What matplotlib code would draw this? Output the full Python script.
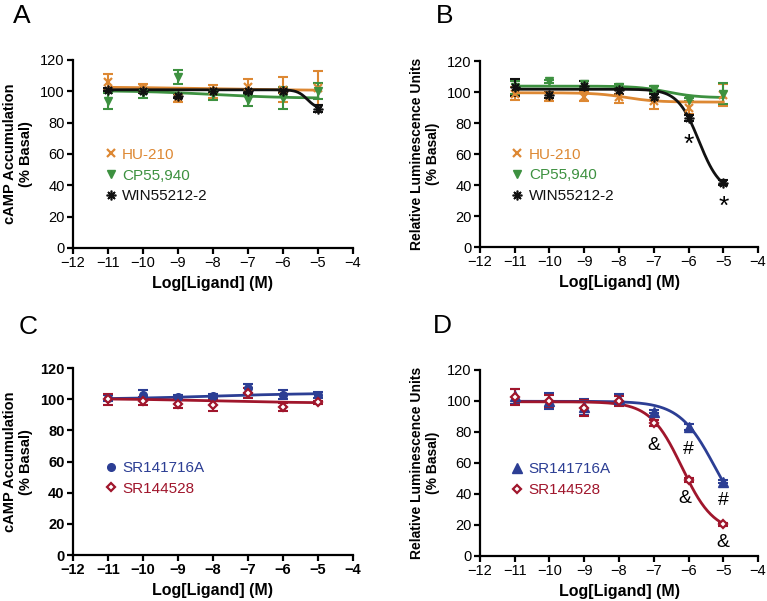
import matplotlib
matplotlib.use('Agg')
import matplotlib.pyplot as plt
from matplotlib.lines import Line2D
import numpy as np

plt.rcParams['font.family'] = ['Liberation Sans', 'DejaVu Sans']

# ---- data ----
log_conc = [-11, -10, -9, -8, -7, -6, -5]

# panel A: cAMP accumulation, agonists
a_hu = [106, 102, 95.5, 100, 103, 101, 102]
a_hu_err = [5, 2.5, 2.5, 4, 5, 8, 11]
a_cp = [94, 99, 109, 98, 94.5, 96, 100]
a_cp_err = [5, 3, 4.5, 3.5, 4, 7, 5]
a_win = [101, 100, 97, 100, 100, 100, 89]
a_win_err = [1, 1, 1, 1, 1, 1, 2]

# panel B: luminescence, agonists
b_hu = [99, 97, 97, 97, 94, 90, 98]
b_hu_err = [4, 2.5, 3, 4, 5, 4, 7]
b_cp = [103, 107, 105, 103, 102, 95, 99]
b_cp_err = [4, 1, 2, 2, 2, 1, 7]
b_win = [103, 98, 104, 101, 97, 83, 41.5]
b_win_err = [5.5, 2, 3, 2, 2, 2, 1.5]

# panel C: cAMP accumulation, antagonists
c_sr1 = [101, 103, 101.5, 102, 107, 103, 102.5]
c_sr1_err = [2, 3, 1.5, 1.5, 3, 3, 2]
c_sr2 = [100, 99, 97, 96, 104, 95, 98]
c_sr2_err = [3.5, 2.5, 2.5, 3.5, 3, 2.5, 1]

# panel D: luminescence, antagonists
d_sr1 = [103, 100, 96, 101, 93, 83, 48]
d_sr1_err = [5, 5, 5, 3.5, 1, 2, 1]
d_sr2 = [102.5, 100, 95.5, 100, 86, 49, 20.5]
d_sr2_err = [5, 4, 5, 3, 2, 1, 1]

# fitted curve parameters (top, bottom, logEC50, hill)
a_fits = [(102.8, 100.5, -8.0, 0.3), (100.5, 95.5, -8.0, 0.4), (101.0, 88.5, -5.3, 3.0)]
b_fits = [(99.5, 93.5, -7.8, 1.0), (103.8, 96.3, -6.6, 1.0), (101.8, 35.0, -5.7, 1.42)]
c_fits = [(100.0, 104.0, -8.0, 0.3), (100.5, 97.5, -8.0, 0.3)]
d_fits = [(99.8, 15.0, -5.24, 0.85), (99.5, 15.0, -6.19, 0.95)]

# significance marks (label, x, y, size)
b_marks = [("*", -6, 66, 19), ("*", -5, 26, 19)]
d_marks = [("&", -7, 71, 14), ("#", -6, 69, 14), ("&", -6.1, 37, 14),
           ("#", -5, 36, 14), ("&", -5, 9, 14)]

agonists = ["HU-210", "CP55,940", "WIN55212-2"]
antagonists = ["SR141716A", "SR144528"]

ORANGE = "#DD8833"
GREEN = "#3D9140"
BLACK = "#111111"
BLUE = "#2C3E94"
RED = "#A0162C"

ag_style = [dict(color=ORANGE, marker="x", ms=6, mew=1.6, mfc=ORANGE),
            dict(color=GREEN, marker="v", ms=6, mew=1, mfc=GREEN),
            dict(color=BLACK, marker=(8, 2, 0), ms=7, mew=1.2, mfc=BLACK)]
an_style = [dict(color=BLUE, marker="o", ms=5.5, mew=1, mfc=BLUE),
            dict(color=RED, marker="D", ms=4.5, mew=1.6, mfc="white")]
an_style_d = [dict(color=BLUE, marker="^", ms=6.5, mew=1, mfc=BLUE),
              dict(color=RED, marker="D", ms=4.5, mew=1.6, mfc="white")]


def four_pl(x, top, bottom, logec, hill):
    return bottom + (top - bottom) / (1 + 10 ** ((x - logec) * hill))


def draw_panel(ax, series, errs, fits, names, styles, ylabel, ylabel_size,
               bold_ticks=False, marks=()):
    xs = np.linspace(-11, -5, 200)
    for y, e, fit, st in zip(series, errs, fits, styles):
        ax.errorbar(log_conc, y, yerr=e, fmt="none", ecolor=st["color"],
                    elinewidth=1.5, capsize=3.5, capthick=1.5, zorder=2)
        ax.plot(log_conc, y, linestyle="none", marker=st["marker"], ms=st["ms"],
                mew=st["mew"], mfc=st["mfc"], mec=st["color"], zorder=4)
        ax.plot(xs, four_pl(xs, *fit), color=st["color"], lw=2, zorder=3)
    for txt, x, y, size in marks:
        ax.text(x, y, txt, ha="center", va="center", fontsize=size, color="black")

    ax.set_xlim(-12, -4)
    ax.set_ylim(0, 120)
    ax.set_xticks(range(-12, -3))
    ax.set_yticks(range(0, 121, 20))
    for s in ["top", "right"]:
        ax.spines[s].set_visible(False)
    for s in ["left", "bottom"]:
        ax.spines[s].set_linewidth(1.6)
    ax.tick_params(direction="out", length=4, width=1.6, labelsize=10.5, pad=2)
    if bold_ticks:
        for lab in ax.get_xticklabels() + ax.get_yticklabels():
            lab.set_fontweight("bold")
    ax.set_xlabel("Log[Ligand] (M)", fontsize=11.5, fontweight="bold", labelpad=4)
    ax.set_ylabel(ylabel, fontsize=ylabel_size, fontweight="bold", labelpad=5)

    handles = [Line2D([], [], linestyle="none", marker=st["marker"], ms=st["ms"],
                      mew=st["mew"], mfc=st["mfc"], mec=st["color"]) for st in styles]
    ax.legend(handles, names, loc="center left",
              bbox_to_anchor=(0.118, 0.385 if len(names) == 3 else 0.41),
              frameon=False, fontsize=11, handlelength=0.6, handletextpad=0.45,
              borderpad=0, borderaxespad=0, labelspacing=0.45,
              labelcolor=[st["color"] for st in styles])


fig = plt.figure(figsize=(7.67, 6.01), dpi=100)

ax_a = fig.add_axes([0.0952, 0.5874, 0.365, 0.3128])
ax_b = fig.add_axes([0.6258, 0.589, 0.3625, 0.3095])
ax_c = fig.add_axes([0.0952, 0.0765, 0.365, 0.311])
ax_d = fig.add_axes([0.6258, 0.0749, 0.3625, 0.3095])

camp_label = "cAMP Accumulation\n(% Basal)"
lum_label = "Relative Luminescence Units\n(% Basal)"

draw_panel(ax_a, [a_hu, a_cp, a_win], [a_hu_err, a_cp_err, a_win_err], a_fits,
           agonists, ag_style, camp_label, 10.5)
draw_panel(ax_b, [b_hu, b_cp, b_win], [b_hu_err, b_cp_err, b_win_err], b_fits,
           agonists, ag_style, lum_label, 10, marks=b_marks)
draw_panel(ax_c, [c_sr1, c_sr2], [c_sr1_err, c_sr2_err], c_fits,
           antagonists, an_style, camp_label, 10.5, bold_ticks=True)
draw_panel(ax_d, [d_sr1, d_sr2], [d_sr1_err, d_sr2_err], d_fits,
           antagonists, an_style_d, lum_label, 10, marks=d_marks)

for letter, x, y in [("A", 13, 4), ("B", 436, 4), ("C", 19, 315), ("D", 433, 314)]:
    fig.text(x / 767, 1 - y / 601, letter, fontsize=19, ha="left", va="top")

fig.savefig("out.png", dpi=100)
